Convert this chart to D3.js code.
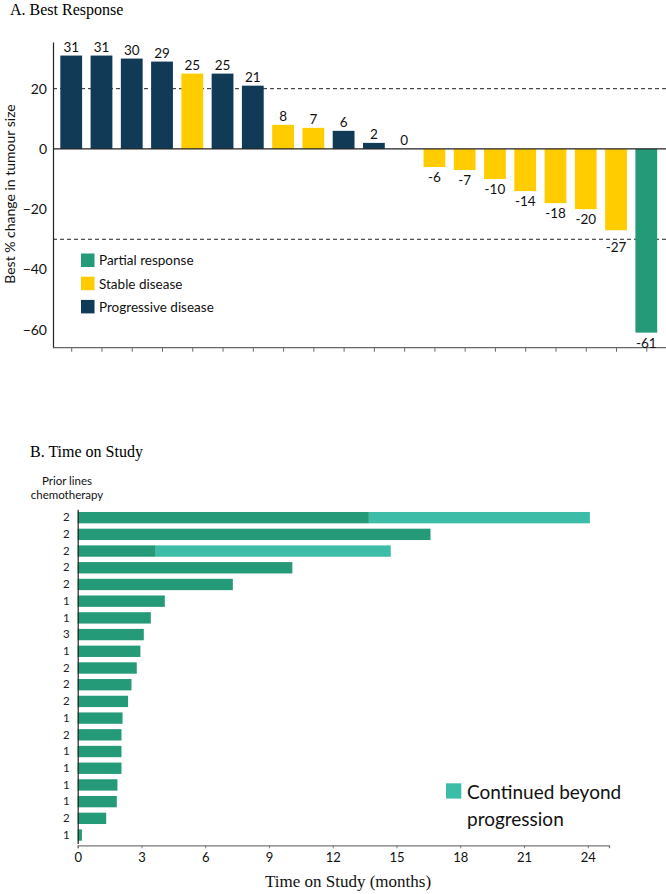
<!DOCTYPE html>
<html>
<head>
<meta charset="utf-8">
<script src="https://cdn.jsdelivr.net/npm/d3@7"></script>
<style>
  body { margin: 0; background: #fff; }
  svg { display: block; }
</style>
</head>
<body>
<svg id="chart"></svg>
<script>
// panel A data
const responseValues = [31, 31, 30, 29, 25, 25, 21, 8, 7, 6, 2, 0, -6, -7, -10, -14, -18, -20, -27, -61];
const responseTypes = ["PD", "PD", "PD", "PD", "SD", "PD", "PD", "SD", "SD", "PD", "PD", "SD",
  "SD", "SD", "SD", "SD", "SD", "SD", "SD", "PR"];
const responseTicks = [20, 0, -20, -40, -60];
const thresholds = [20, -30];
const legendA = [["PR", "Partial response"], ["SD", "Stable disease"], ["PD", "Progressive disease"]];

// panel B data
const priorLines = [2, 2, 2, 2, 2, 1, 1, 3, 1, 2, 2, 2, 1, 2, 1, 1, 1, 1, 2, 1];
const onStudy = [13.7, 16.6, 3.67, 10.1, 7.3, 4.1, 3.44, 3.11, 2.95, 2.78, 2.53, 2.37, 2.11, 2.06, 2.06, 2.06, 1.87, 1.84, 1.34, 0.2];
const beyondProgression = [24.1, null, 14.73, null, null, null, null, null, null, null, null, null, null, null, null, null, null, null, null, null];
const monthTicks = [0, 3, 6, 9, 12, 15, 18, 21, 24];

const W = 666, H = 894;
const COLORS = { PD: "#113a56", SD: "#ffcc00", PR: "#259a78" };
const BEYOND = "#3dbda7";
const SANS = "Lato, 'Open Sans', sans-serif";
const SERIF = "'Liberation Serif', 'Times New Roman', serif";

const svg = d3.select("#chart").attr("width", W).attr("height", H);

// ---------- A. Best Response ----------
svg.append("text").attr("x", 10).attr("y", 15)
  .attr("font-family", SERIF).attr("font-size", 16).text("A. Best Response");

const idx = responseValues.map((_, i) => i);
const xA = d3.scaleBand().domain(idx).range([58.5, 659]).paddingInner(0.28).paddingOuter(0.06);
const yA = d3.scaleLinear().domain([-66, 35.5]).range([347.7, 42]);

const gA = svg.append("g");

// y axis
const yAxisA = gA.append("g")
  .attr("transform", "translate(53,0)")
  .call(d3.axisLeft(yA).tickValues(responseTicks).tickSize(0).tickPadding(6));
yAxisA.select(".domain").attr("stroke", "#222").attr("stroke-width", 1.2);
yAxisA.selectAll("text").attr("font-family", SANS).attr("font-size", 14).attr("fill", "#111");

// bottom axis with ticks at bar centres
const xAxisA = gA.append("g")
  .attr("transform", `translate(0,${yA(-66)})`)
  .call(d3.axisBottom(d3.scalePoint().domain(idx).range([xA(0) + xA.bandwidth() / 2, xA(19) + xA.bandwidth() / 2]))
    .tickSize(4).tickFormat(""));
xAxisA.select(".domain").remove();
xAxisA.selectAll("line").attr("stroke", "#666");
gA.append("line").attr("x1", 53).attr("x2", 666).attr("y1", yA(-66)).attr("y2", yA(-66))
  .attr("stroke", "#666").attr("stroke-width", 1.2);

// dashed thresholds
gA.selectAll(".thr").data(thresholds).enter().append("line")
  .attr("x1", 53).attr("x2", 666)
  .attr("y1", d => yA(d)).attr("y2", d => yA(d))
  .attr("stroke", "#222").attr("stroke-width", 1).attr("stroke-dasharray", "4,3");

// bars
gA.selectAll(".bar").data(responseValues).enter().append("rect")
  .attr("x", (d, i) => xA(i))
  .attr("width", xA.bandwidth())
  .attr("y", d => yA(Math.max(0, d)))
  .attr("height", d => Math.abs(yA(d) - yA(0)))
  .attr("fill", (d, i) => COLORS[responseTypes[i]]);

// zero line
gA.append("line").attr("x1", 53).attr("x2", 666).attr("y1", yA(0)).attr("y2", yA(0))
  .attr("stroke", "#222").attr("stroke-width", 1.2);

// value labels; negative labels drop below a dashed line if they would sit on it
function labelY(d) {
  if (d >= 0) return yA(d) - 3.5;
  let y = yA(d) + 15;
  thresholds.forEach(t => {
    const ty = yA(t);
    if (ty > y - 11 && ty < y + 2) y = ty + 13;
  });
  return y;
}
gA.selectAll(".lbl").data(responseValues).enter().append("text")
  .attr("x", (d, i) => xA(i) + xA.bandwidth() / 2)
  .attr("y", labelY)
  .attr("text-anchor", "middle")
  .attr("font-family", SANS).attr("font-size", 13.5).attr("fill", "#111")
  .text(d => d);

// y title
svg.append("text")
  .attr("transform", "translate(14.5,194) rotate(-90)")
  .attr("text-anchor", "middle")
  .attr("font-family", SANS).attr("font-size", 14).attr("fill", "#111")
  .text("Best % change in tumour size");

// legend A
const legA = gA.selectAll(".legA").data(legendA).enter().append("g")
  .attr("transform", (d, i) => `translate(81,${253.5 + i * 23.2})`);
legA.append("rect").attr("width", 13.5).attr("height", 13.5).attr("fill", d => COLORS[d[0]]);
legA.append("text").attr("x", 18).attr("y", 11.8)
  .attr("font-family", SANS).attr("font-size", 13.5).attr("fill", "#111")
  .text(d => d[1]);

// ---------- B. Time on Study ----------
svg.append("text").attr("x", 30).attr("y", 457)
  .attr("font-family", SERIF).attr("font-size", 16).text("B. Time on Study");

svg.append("text").attr("x", 67).attr("y", 485)
  .attr("text-anchor", "middle").attr("font-family", SANS).attr("font-size", 11.5).attr("fill", "#111")
  .selectAll("tspan").data(["Prior lines", "chemotherapy"]).enter().append("tspan")
  .attr("x", 67).attr("dy", (d, i) => i === 0 ? 0 : 14).text(d => d);

const rows = priorLines.map((_, i) => i);
const xB = d3.scaleLinear().domain([0, 25]).range([77.7, 609]);
const yB = d3.scaleBand().domain(rows).range([509.3, 843.4]).paddingInner(0.32).paddingOuter(0.16);

const gB = svg.append("g");

// beyond-progression segments
const beyondRows = rows.filter(i => beyondProgression[i] != null);
gB.selectAll(".beyond").data(beyondRows).enter().append("rect")
  .attr("x", i => xB(onStudy[i]))
  .attr("width", i => xB(beyondProgression[i]) - xB(onStudy[i]))
  .attr("y", i => yB(i))
  .attr("height", yB.bandwidth())
  .attr("fill", BEYOND);

// main bars
gB.selectAll(".bar").data(onStudy).enter().append("rect")
  .attr("x", xB(0))
  .attr("y", (d, i) => yB(i))
  .attr("width", d => xB(d) - xB(0))
  .attr("height", yB.bandwidth())
  .attr("fill", COLORS.PR);

// y axis: prior lines
const yAxisB = gB.append("g")
  .attr("transform", `translate(${xB(0)},0)`)
  .call(d3.axisLeft(yB).tickSize(0).tickPadding(8).tickFormat(i => priorLines[i]));
yAxisB.select(".domain").attr("stroke", "#222").attr("stroke-width", 1.2);
yAxisB.selectAll("text").attr("font-family", SANS).attr("font-size", 11.5).attr("fill", "#222");

// x axis
const xAxisB = gB.append("g")
  .attr("transform", "translate(0,845.3)")
  .call(d3.axisBottom(xB).tickValues(monthTicks).tickSize(3).tickPadding(4));
xAxisB.select(".domain").attr("stroke", "#777").attr("stroke-width", 1.3);
xAxisB.selectAll("line").attr("stroke", "#777");
xAxisB.selectAll("text").attr("font-family", SANS).attr("font-size", 13).attr("fill", "#111");

svg.append("text").attr("x", 348).attr("y", 887)
  .attr("text-anchor", "middle").attr("font-family", SERIF).attr("font-size", 17).attr("fill", "#111")
  .text("Time on Study (months)");

// legend B
svg.append("rect").attr("x", 446).attr("y", 783.3).attr("width", 15.3).attr("height", 15.3).attr("fill", BEYOND);
svg.append("text").attr("x", 467).attr("y", 799)
  .attr("font-family", SANS).attr("font-size", 19).attr("fill", "#111")
  .text("Continued beyond");
svg.append("text").attr("x", 467).attr("y", 825.5)
  .attr("font-family", SANS).attr("font-size", 19).attr("fill", "#111")
  .text("progression");
</script>
</body>
</html>
